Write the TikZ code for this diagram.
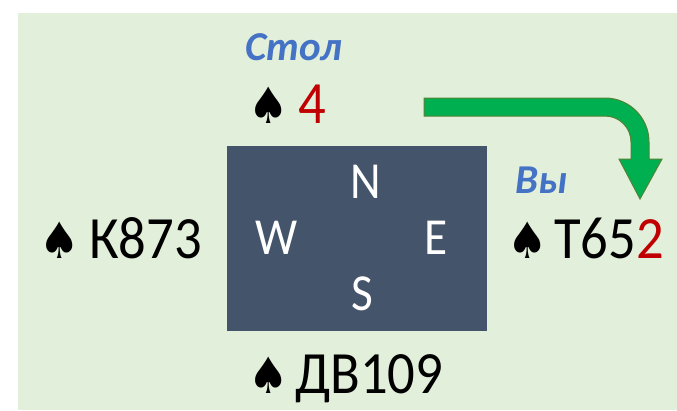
\documentclass[tikz,border=0pt]{standalone}
\usepackage{fontspec}
\setmainfont{Carlito}
\newfontfamily\handfont[FakeStretch=0.91]{Carlito}
\newfontfamily\suitfont[FakeStretch=0.9]{DejaVu Sans}
\definecolor{bgg}{HTML}{E2EFDA}
\definecolor{boxc}{HTML}{44546A}
\definecolor{lblue}{HTML}{4472C4}
\definecolor{cred}{HTML}{C00000}
\definecolor{agreen}{HTML}{00B050}
\definecolor{aedge}{HTML}{548235}
\tikzset{
  hand/.style={inner sep=0pt, anchor=base west, font=\handfont\fontsize{60}{62}\selectfont},
  suit/.style={inner sep=0pt, anchor=base west, font=\suitfont\fontsize{50}{52}\selectfont},
  who/.style={inner sep=0pt, anchor=base west, text=lblue, font=\fontsize{41}{43}\selectfont\bfseries\itshape},
  dir/.style={inner sep=0pt, anchor=base, text=white, font=\handfont\fontsize{52}{54}\selectfont},
}
\begin{document}
\begin{tikzpicture}[x=1pt,y=-1pt]
\useasboundingbox (0,0) rectangle (677,410);
\fill[white] (0,0) rectangle (677,410);
\fill[bgg] (18,13) rectangle (677,410);
\node[fill=boxc, minimum width=260pt, minimum height=185pt, inner sep=0pt, anchor=north west] (table) at (227,146) {};
\node[dir] (n) at (366,198) {N};
\node[dir] (w) at (277,254) {W};
\node[dir] (e) at (436,254) {E};
\node[dir] (s) at (362,310) {S};
\node[who] (stol) at (245,60) {Стол};
\node[who] (vy) at (515,193) {Вы};
\node[suit] (sn) at (248,123) {♠};
\node[hand, text=cred] (cn) at (298,123) {4};
\node[suit] (sw) at (39,258) {♠};
\node[hand] (cw) at (89,258) {К873};
\node[suit] (se) at (507,258) {♠};
\node[hand] (ce) at (554,258) {Т65\textcolor{cred}{2}};
\node[suit] (ss) at (248,393) {♠};
\node[hand] (cs) at (295,393) {ДВ109};
\draw[fill=agreen, draw=aedge, line width=1pt, line join=miter]
  (424,98) -- (605,98) .. controls (629.3,98) and (649,117.7) .. (649,142)
  -- (649,159) -- (662,159) -- (640,199) -- (619,159) -- (631,159) -- (631,142)
  .. controls (631,127.6) and (619.4,116) .. (605,116) -- (424,116) -- cycle;
\end{tikzpicture}
\end{document}
